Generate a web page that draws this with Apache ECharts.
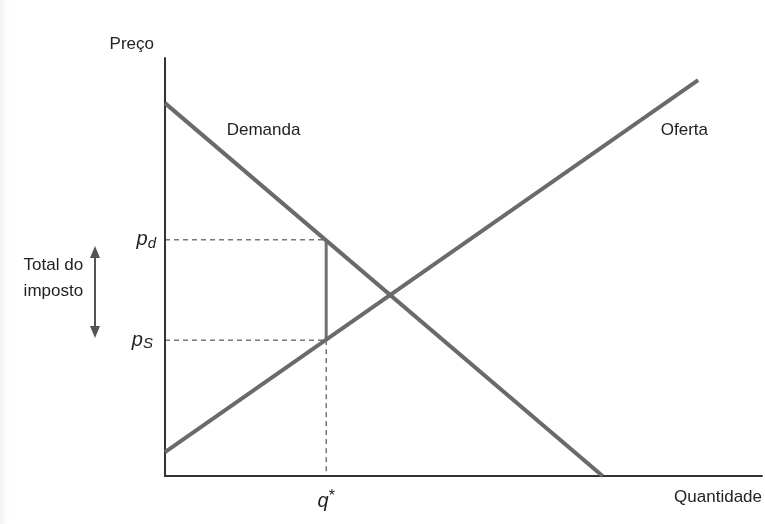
<!DOCTYPE html>
<html>
<head>
<meta charset="utf-8">
<script src="https://cdn.jsdelivr.net/npm/echarts@6/dist/echarts.min.js"></script>
<style>
  html, body { margin: 0; padding: 0; background: #fff; }
  #chart { width: 765px; height: 524px; }
</style>
</head>
<body>
<div id="chart"></div>
<script>
// curvas (unidades arbitrárias, eixo 0..100)
const demandQ = [0, 73.3];
const demandP = [89.2, 0];
const supplyQ = [0, 89.3];
const supplyP = [5.7, 94.7];
const qStar = 27;
const pD = 56.5;
const pS = 32.5;
const textFont = "'Liberation Sans', Arial, sans-serif";
const textColor = "#222";

const chart = echarts.init(document.getElementById("chart"));

function pairs(xs, ys) {
  return xs.map((x, i) => [x, ys[i]]);
}

// rótulo solto preso a coordenadas dos dados
function tag(name, point, label) {
  return {
    name: name,
    type: "scatter",
    symbolSize: 0,
    clip: false,
    silent: true,
    itemStyle: { opacity: 1 },
    data: [point],
    label: Object.assign(
      { show: true, color: textColor, fontFamily: textFont, fontSize: 17 },
      label
    ),
  };
}

const dashStyle = { color: "#333", width: 1, type: [5, 4] };
const italic = (size, extra) =>
  Object.assign({ fontSize: size, fontStyle: "italic", fontFamily: textFont, color: textColor }, extra);

chart.setOption({
  animation: false,
  backgroundColor: "#fff",
  grid: { left: 165, right: 0, top: 58, bottom: 48 },
  xAxis: {
    type: "value",
    min: 0,
    max: 100,
    name: "Quantidade",
    nameLocation: "end",
    nameGap: 0,
    nameTextStyle: {
      align: "right",
      verticalAlign: "top",
      padding: [13, 0, 0, 0],
      color: textColor,
      fontFamily: textFont,
      fontSize: 17,
    },
    axisLine: { lineStyle: { color: "#333", width: 2 } },
    axisTick: { show: false },
    axisLabel: { show: false },
    splitLine: { show: false },
  },
  yAxis: {
    type: "value",
    min: 0,
    max: 100,
    name: "Preço",
    nameLocation: "end",
    nameGap: 5,
    nameTextStyle: {
      align: "right",
      verticalAlign: "bottom",
      padding: [0, 11, 0, 0],
      color: textColor,
      fontFamily: textFont,
      fontSize: 17,
    },
    axisLine: { show: true, lineStyle: { color: "#333", width: 2 } },
    axisTick: { show: false },
    axisLabel: { show: false },
    splitLine: { show: false },
  },
  series: [
    {
      name: "pd",
      type: "line",
      symbol: "none",
      data: [[0, pD], [qStar, pD]],
      lineStyle: dashStyle,
    },
    {
      name: "ps",
      type: "line",
      symbol: "none",
      data: [[0, pS], [qStar, pS]],
      lineStyle: dashStyle,
    },
    {
      name: "q",
      type: "line",
      symbol: "none",
      data: [[qStar, pS], [qStar, 0]],
      lineStyle: dashStyle,
    },
    {
      name: "imposto",
      type: "line",
      symbol: "none",
      data: [[qStar, pD], [qStar, pS]],
      lineStyle: { color: "#707070", width: 3 },
    },
    {
      name: "Demanda",
      type: "line",
      symbol: "none",
      data: pairs(demandQ, demandP),
      lineStyle: { color: "#6a6a6a", width: 4 },
    },
    {
      name: "Oferta",
      type: "line",
      symbol: "none",
      data: pairs(supplyQ, supplyP),
      lineStyle: { color: "#6a6a6a", width: 4 },
    },
    tag("t1", [16.5, 82.8], { position: "inside", formatter: "Demanda" }),
    tag("t2", [87, 82.8], { position: "inside", formatter: "Oferta" }),
    tag("t3", [-18.7, 47.3], {
      position: "inside",
      formatter: "Total do\nimposto",
      lineHeight: 26,
    }),
    tag("t4", [0, pD], {
      position: "left",
      distance: 9,
      formatter: "{p|p}{s|d}",
      rich: { p: italic(20), s: italic(15, { padding: [8, 0, 0, 0] }) },
    }),
    tag("t5", [0, pS], {
      position: "left",
      distance: 12,
      formatter: "{p|p}{s|S}",
      rich: { p: italic(20), s: italic(15, { padding: [8, 0, 0, 0] }) },
    }),
    tag("t6", [qStar, 0], {
      position: "bottom",
      distance: 13,
      formatter: "{q|q}{a|*}",
      rich: {
        q: italic(20),
        a: { fontSize: 16, fontFamily: textFont, color: textColor, padding: [0, 0, 8, 0] },
      },
    }),
  ],
});

// seta dupla do imposto, posta pelas escalas do gráfico
const arrowTop = chart.convertToPixel({ gridIndex: 0 }, [-11.7, 55.0]);
const arrowBot = chart.convertToPixel({ gridIndex: 0 }, [-11.7, 33.0]);
const ax = Math.round(arrowTop[0]);
const arrowColor = "#555";
chart.setOption({
  graphic: [
    {
      type: "rect",
      shape: { x: 0, y: 0, width: 12, height: 524 },
      style: {
        fill: new echarts.graphic.LinearGradient(0, 0, 1, 0, [
          { offset: 0, color: "rgba(242,232,232,0.7)" },
          { offset: 1, color: "rgba(255,255,255,0)" },
        ]),
      },
      silent: true,
      z: -1,
    },
    {
      type: "line",
      shape: { x1: ax, y1: arrowTop[1] + 8, x2: ax, y2: arrowBot[1] - 8 },
      style: { stroke: arrowColor, lineWidth: 2 },
    },
    {
      type: "polygon",
      shape: { points: [[ax, arrowTop[1]], [ax - 5, arrowTop[1] + 12], [ax + 5, arrowTop[1] + 12]] },
      style: { fill: arrowColor },
    },
    {
      type: "polygon",
      shape: { points: [[ax, arrowBot[1]], [ax - 5, arrowBot[1] - 12], [ax + 5, arrowBot[1] - 12]] },
      style: { fill: arrowColor },
    },
  ],
});
</script>
</body>
</html>
